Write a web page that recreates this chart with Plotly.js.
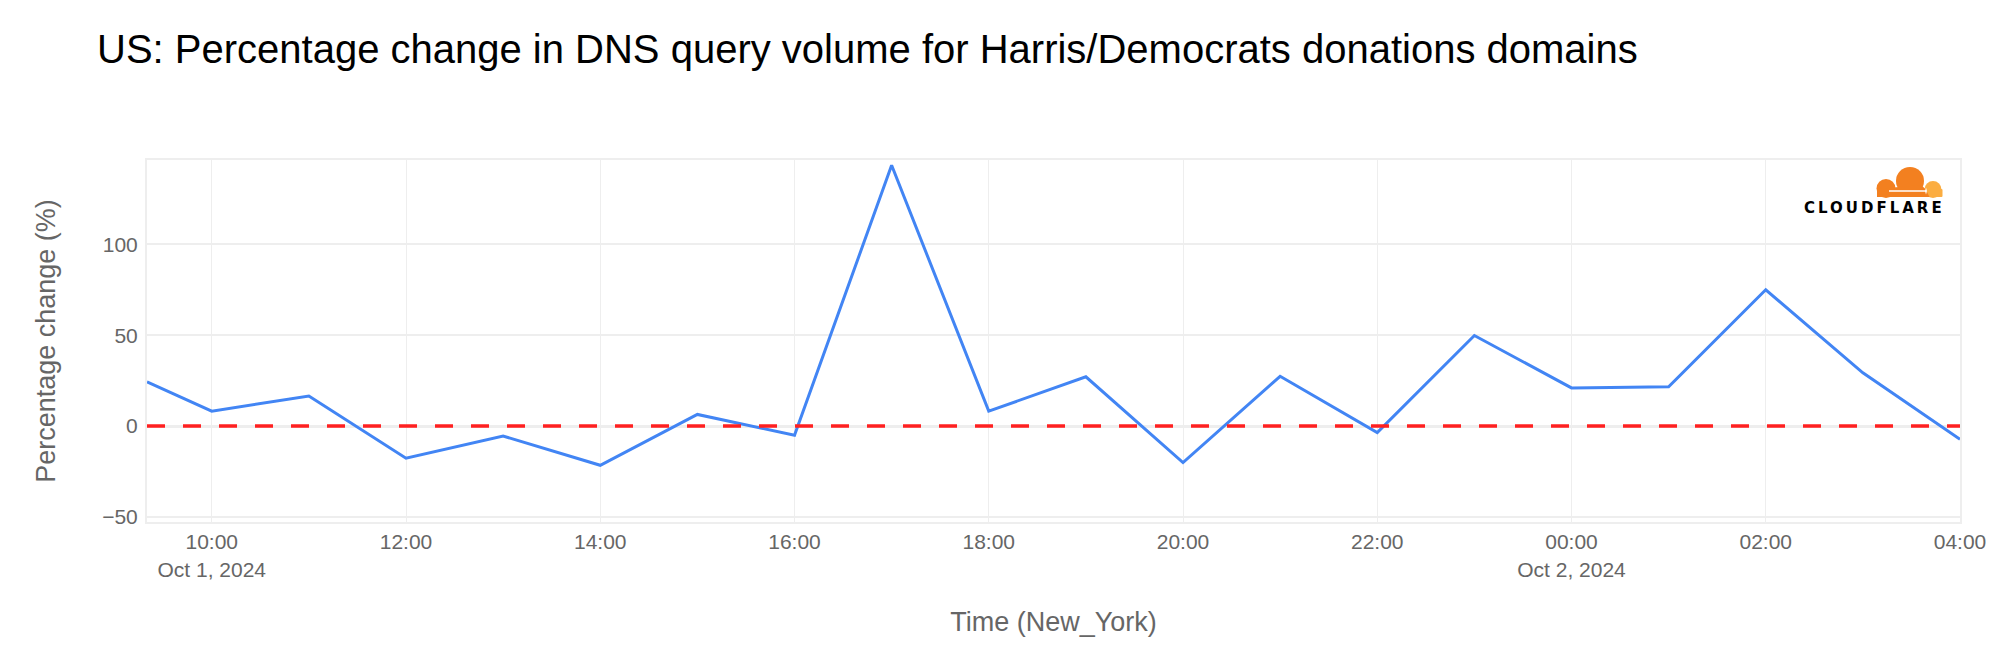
<!DOCTYPE html>
<html>
<head>
<meta charset="utf-8">
<script src="https://cdn.plot.ly/plotly-3.0.1.min.js"></script>
<style>
html,body{margin:0;padding:0;background:#fff;}
#chart{width:2006px;height:646px;}
</style>
</head>
<body>
<div id="chart"></div>
<script>
// Data
const times = [
  '2024-10-01 09:20', '2024-10-01 10:00', '2024-10-01 11:00', '2024-10-01 12:00',
  '2024-10-01 13:00', '2024-10-01 14:00', '2024-10-01 15:00', '2024-10-01 16:00',
  '2024-10-01 17:00', '2024-10-01 18:00', '2024-10-01 19:00', '2024-10-01 20:00',
  '2024-10-01 21:00', '2024-10-01 22:00', '2024-10-01 23:00', '2024-10-02 00:00',
  '2024-10-02 01:00', '2024-10-02 02:00', '2024-10-02 03:00', '2024-10-02 04:00'
];
const pctChange = [
  24.3, 8.2, 16.5, -17.7, -5.5, -21.6, 6.4, -5.1, 143.5, 8.2,
  27.1, -20.1, 27.4, -3.6, 49.8, 21.0, 21.6, 75.0, 29.3, -7.3
];
const yTicks = [-50, 0, 50, 100];
const titleText = 'US: Percentage change in DNS query volume for Harris/Democrats donations domains';
const xTitle = 'Time (New_York)';
const yTitle = 'Percentage change (%)';
const logoText = 'CLOUDFLARE';

// Cloudflare cloud mark (drawn in a small local box)
const cloudSvg =
  "<svg xmlns='http://www.w3.org/2000/svg' viewBox='1870 165 75 35'>" +
  "<g fill='#FBAD41'><circle cx='1933' cy='189.5' r='8.5'/><rect x='1925' y='189' width='17.5' height='8' rx='1'/></g>" +
  "<g fill='#F38020'><circle cx='1886' cy='188.5' r='9.5'/><circle cx='1910' cy='181' r='14'/>" +
  "<path d='M1877 197 L1877 189 L1921 185 L1925.5 189 L1929.5 197 Z'/></g>" +
  "<path d='M1889 191 H1926' stroke='#ffffff' stroke-width='1.3'/>" +
  "<path d='M1926 187.5 L1927 191 L1926 194.5 L1925 191 Z' fill='#ffffff'/>" +
  "</svg>";

const trace = {
  x: times,
  y: pctChange,
  type: 'scatter',
  mode: 'lines',
  line: {color: '#4285F4', width: 3},
  hoverinfo: 'x+y'
};

const FAMILY = 'Liberation Sans, Arial, Helvetica, sans-serif';
const axisFont = {family: FAMILY, size: 21, color: '#666666'};
const axisTitleFont = {family: FAMILY, size: 27, color: '#666666'};

const layout = {
  width: 2006,
  height: 646,
  paper_bgcolor: '#ffffff',
  plot_bgcolor: '#ffffff',
  margin: {l: 147, r: 46, t: 160, b: 124, pad: 0},
  showlegend: false,
  font: {family: FAMILY, color: '#666666'},
  title: {
    text: titleText,
    font: {family: FAMILY, size: 40, color: '#000000'},
    xref: 'container', x: 97 / 2006, xanchor: 'left',
    yref: 'container', y: 1 - 49 / 646, yanchor: 'middle'
  },
  xaxis: {
    type: 'date',
    range: ['2024-10-01 09:20', '2024-10-02 04:00'],
    tick0: '2024-10-01 00:00',
    dtick: 2 * 3600 * 1000,
    showgrid: true,
    gridcolor: '#eeeeee',
    gridwidth: 1,
    showline: true,
    linecolor: '#eeeeee',
    linewidth: 2,
    mirror: true,
    zeroline: false,
    ticks: '',
    tickfont: axisFont,
    title: {text: xTitle, font: axisTitleFont, standoff: 33}
  },
  yaxis: {
    range: [-52.8, 146.4],
    tickvals: yTicks,
    showgrid: true,
    gridcolor: '#eeeeee',
    gridwidth: 2,
    showline: true,
    linecolor: '#eeeeee',
    linewidth: 2,
    mirror: true,
    zeroline: true,
    zerolinecolor: '#eeeeee',
    zerolinewidth: 3,
    ticks: '',
    ticklabelstandoff: 3,
    tickfont: axisFont,
    title: {text: yTitle, font: axisTitleFont, standoff: 39}
  },
  shapes: [{
    type: 'line', xref: 'paper', x0: 0, x1: 1, yref: 'y', y0: 0, y1: 0,
    line: {color: '#ff2020', width: 3.5, dash: '18px,18px'}
  }],
  images: [{
    source: 'data:image/svg+xml;utf8,' + encodeURIComponent(cloudSvg),
    xref: 'paper', yref: 'paper',
    x: (1870 - 147) / 1813, y: (522 - 165) / 362,
    sizex: 75 / 1813, sizey: 35 / 362,
    xanchor: 'left', yanchor: 'top', sizing: 'stretch', layer: 'above'
  }],
  annotations: [{
    text: '<b>' + logoText + '</b>',
    xref: 'paper', yref: 'paper',
    x: (1874.5 - 147) / 1813, y: (522 - 208) / 362,
    xanchor: 'center', yanchor: 'middle',
    showarrow: false,
    font: {family: 'DejaVu Sans, Liberation Sans, sans-serif', size: 15, color: '#000000'}
  }]
};

Plotly.newPlot('chart', [trace], layout, {displayModeBar: false, staticPlot: true}).then(function () {
  document.querySelectorAll('.annotation-text').forEach(function (el) {
    if (el.textContent === logoText) {
      el.setAttribute('letter-spacing', '3px');
    }
  });
});
</script>
</body>
</html>
